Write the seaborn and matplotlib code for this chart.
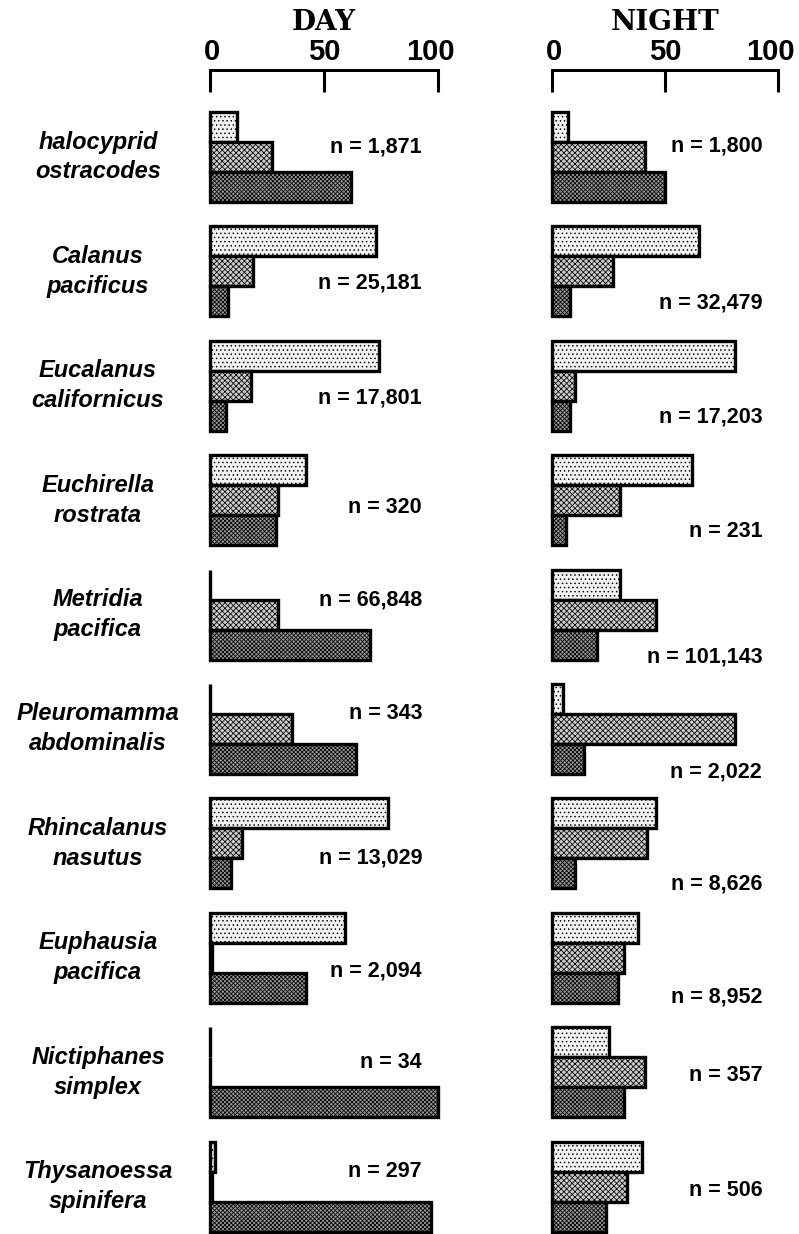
import matplotlib
matplotlib.use("Agg")
import matplotlib.pyplot as plt
from matplotlib.transforms import ScaledTranslation
import numpy as np
import pandas as pd
import seaborn as sns

# Percent of each species in the three depth strata, by day and by night
SPECIES = [
    ("halocyprid", "ostracodes"),
    ("Calanus", "pacificus"),
    ("Eucalanus", "californicus"),
    ("Euchirella", "rostrata"),
    ("Metridia", "pacifica"),
    ("Pleuromamma", "abdominalis"),
    ("Rhincalanus", "nasutus"),
    ("Euphausia", "pacifica"),
    ("Nictiphanes", "simplex"),
    ("Thysanoessa", "spinifera"),
]
ZONES = ["upper", "middle", "lower"]

DAY_UPPER = [12, 73, 74, 42, 0, 0, 78, 59, 0, 2]
DAY_MIDDLE = [27, 19, 18, 30, 30, 36, 14, 1, 0, 1]
DAY_LOWER = [62, 8, 7, 29, 70, 64, 9, 42, 100, 97]
DAY_N = ["1,871", "25,181", "17,801", "320", "66,848",
         "343", "13,029", "2,094", "34", "297"]

NIGHT_UPPER = [7, 65, 81, 62, 30, 5, 46, 38, 25, 40]
NIGHT_MIDDLE = [41, 27, 10, 30, 46, 81, 42, 32, 41, 33]
NIGHT_LOWER = [50, 8, 8, 6, 20, 14, 10, 29, 32, 24]
NIGHT_N = ["1,800", "32,479", "17,203", "231", "101,143",
           "2,022", "8,626", "8,952", "357", "506"]

TICKS = [0, 50, 100]

# vertical placement of the sample-size note within each panel (bar units)
DAY_NOTE_Y = [0.67, 1.4, 1.4, 1.25, 0.5, 0.47, 1.5, 1.45, 0.67, 0.5]
NIGHT_NOTE_Y = [0.63, 2.05, 2.05, 2.05, 2.4, 2.43, 2.35, 2.3, 1.1, 1.13]

sns.set_theme(style="white")
plt.rcParams["font.family"] = ["Liberation Sans", "DejaVu Sans"]
plt.rcParams["hatch.linewidth"] = 0.55
plt.rcParams["text.color"] = "black"

W, H = 799, 1234
fig = plt.figure(figsize=(W / 100, H / 100), dpi=100)
fig.patch.set_facecolor("white")

FILLS = {"upper": "#f2f2f2", "middle": "#cccccc", "lower": "#999999"}
HATCH = {"upper": "....", "middle": "xxxxxx", "lower": "xxxxxxxx"}

COLS = [
    ("DAY", 210, 228, DAY_UPPER, DAY_MIDDLE, DAY_LOWER, DAY_N, DAY_NOTE_Y),
    ("NIGHT", 552, 226, NIGHT_UPPER, NIGHT_MIDDLE, NIGHT_LOWER, NIGHT_N, NIGHT_NOTE_Y),
]

TOP0, STEP, PH = 112, 114.4, 90

for title, x0, width, up, mid, low, ns, note_y in COLS:
    for k in range(len(SPECIES)):
        top = TOP0 + STEP * k
        ax = fig.add_axes([x0 / W, 1 - (top + PH) / H, width / W, PH / H])
        df = pd.DataFrame({"zone": ZONES, "pct": [up[k], mid[k], low[k]]})
        sns.barplot(data=df, x="pct", y="zone", hue="zone", order=ZONES,
                    hue_order=ZONES, palette=FILLS, width=1.0, orient="h",
                    edgecolor="black", linewidth=2.4, errorbar=None,
                    legend=False, ax=ax)
        for patch, z in zip(ax.patches, ZONES):
            patch.set_hatch(HATCH[z])
            patch.set_clip_on(False)
            patch.set_joinstyle("miter")
        ax.set_xlim(0, 100)
        ax.set_ylim(2.5, -0.5)
        ax.set_xlabel("")
        ax.set_ylabel("")
        ax.set_yticks([])
        for s in ax.spines.values():
            s.set_visible(False)
        ax.patch.set_alpha(0)
        ax.text(93, note_y[k], f"n = {ns[k]}", ha="right", va="center",
                fontsize=15.5, fontweight="bold", color="black")

        if k == 0:
            ax.spines["top"].set_visible(True)
            ax.spines["top"].set_position(("outward", 30))
            ax.spines["top"].set_linewidth(2.2)
            ax.spines["top"].set_color("black")
            ax.xaxis.set_ticks_position("top")
            ax.set_xticks(TICKS)
            ax.set_xticklabels([str(t) for t in TICKS])
            ax.tick_params(axis="x", direction="in", length=16, width=2.2,
                           color="black", labelsize=21, pad=3,
                           labelcolor="black", top=True, bottom=False)
            fig.canvas.draw()
            shifts = {0: 2, 50: 0, 100: -8}
            for t, lab in zip(TICKS, ax.get_xticklabels()):
                lab.set_fontweight("bold")
                lab.set_transform(lab.get_transform() + ScaledTranslation(
                    shifts[t] / 100, 0, fig.dpi_scale_trans))
        else:
            ax.set_xticks([])

    fig.text((x0 + width / 2) / W, 1 - 23 / H, title, ha="center",
             va="center", fontsize=20, fontweight="bold",
             family="DejaVu Serif", color="black")

# species names to the left of the day panels
for k, (g, s) in enumerate(SPECIES):
    yc = TOP0 + STEP * k + PH / 2
    fig.text(98 / W, 1 - (yc - 15) / H, g, ha="center", va="center",
             fontsize=17, fontweight="bold", fontstyle="italic", color="black")
    fig.text(98 / W, 1 - (yc + 15) / H, s, ha="center", va="center",
             fontsize=17, fontweight="bold", fontstyle="italic", color="black")

fig.savefig("out.png", dpi=100, facecolor="white")
